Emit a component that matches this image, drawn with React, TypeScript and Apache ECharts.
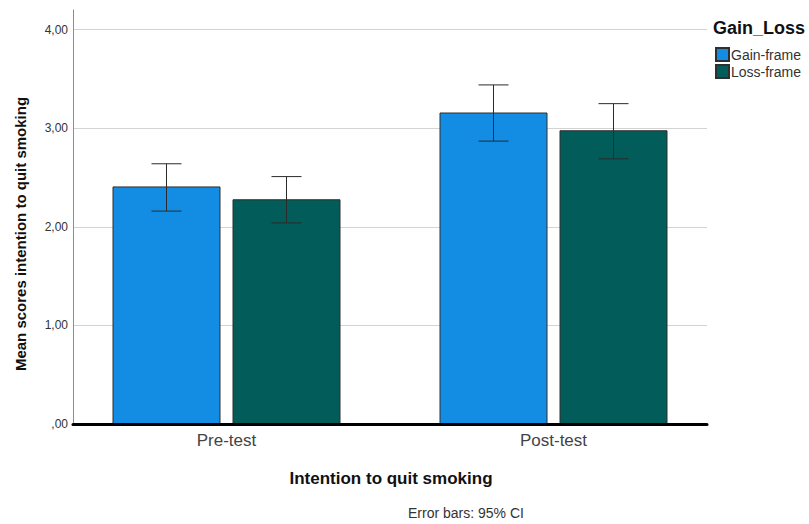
import React, { useEffect, useRef } from "react";
import * as echarts from "echarts";

const categories = ["Pre-test", "Post-test"];
const seriesNames = ["Gain-frame", "Loss-frame"];
const gainMeans = [2.41, 3.16];
const lossMeans = [2.28, 2.98];
const gainCI = [
  [2.16, 2.64],
  [2.87, 3.44],
];
const lossCI = [
  [2.04, 2.51],
  [2.69, 3.25],
];
const yTicks = [0, 1, 2, 3, 4];

const FONT = "Liberation Sans, Arial, sans-serif";
const BAR_W = 108;
const BAR_GAP = 12;
const GAIN_COLOR = "#138de4";
const LOSS_COLOR = "#025c59";

// SPSS-style decimal comma, leading zero dropped (",00")
const fmt = (v: number) => {
  const s = v.toFixed(2).replace(".", ",");
  return s.startsWith("0,") ? s.slice(1) : s;
};

function errorSeries(name: string, ci: number[][], shift: number) {
  return {
    type: "custom",
    name: name + " CI",
    xAxisIndex: 1,
    yAxisIndex: 1,
    silent: true,
    z: 5,
    data: ci.map((d, i) => [i, d[0], d[1]]),
    renderItem: (_params: any, api: any) => {
      const lo = api.coord([api.value(0), api.value(1)]);
      const hi = api.coord([api.value(0), api.value(2)]);
      const x = lo[0] + shift;
      const cap = 15;
      const style = { stroke: "#2b2b2b", lineWidth: 1 };
      return {
        type: "group",
        children: [
          { type: "line", shape: { x1: x, y1: hi[1], x2: x, y2: lo[1] }, style },
          { type: "line", shape: { x1: x - cap, y1: hi[1], x2: x + cap, y2: hi[1] }, style },
          { type: "line", shape: { x1: x - cap, y1: lo[1], x2: x + cap, y2: lo[1] }, style },
        ],
      };
    },
  };
}

export default function App() {
  const ref = useRef<HTMLDivElement>(null);

  useEffect(() => {
    if (!ref.current) return;
    const chart = echarts.init(ref.current, null, { renderer: "svg" });
    const offset = (BAR_W + BAR_GAP) / 2;
    chart.setOption({
      animation: false,
      backgroundColor: "#ffffff",
      textStyle: { fontFamily: FONT },
      grid: [
        { left: 73, right: 102, top: 10, bottom: 100 },
        { left: 63, right: 92, top: 10, bottom: 100 },
      ],
      xAxis: [
        {
          type: "category",
          gridIndex: 0,
          data: categories,
          axisLine: { show: true, lineStyle: { color: "#000", width: 3 } },
          axisTick: { show: false },
          axisLabel: { show: false },
          z: 10,
        },
        {
          type: "category",
          gridIndex: 1,
          data: categories,
          axisLine: { show: false },
          axisTick: { show: false },
          axisLabel: { fontFamily: FONT, fontSize: 17, color: "#444", margin: 8 },
        },
      ],
      yAxis: [
        {
          type: "value",
          gridIndex: 0,
          min: 0,
          max: 4.2,
          interval: 1,
          axisLine: { show: true, lineStyle: { color: "#8c8c8c", width: 1 } },
          axisTick: { show: false },
          axisLabel: {
            fontFamily: FONT,
            fontSize: 12,
            color: "#333",
            margin: 5,
            formatter: (v: number) => (yTicks.includes(v) ? fmt(v) : ""),
          },
          splitLine: {
            show: true,
            lineStyle: {
              color: ["#d3d3d3", "#d3d3d3", "#d3d3d3", "#d3d3d3", "#d3d3d3", "rgba(0,0,0,0)"],
              width: 1,
            },
          },
        },
        {
          type: "value",
          gridIndex: 1,
          min: 0,
          max: 4.2,
          interval: 1,
          show: false,
          splitLine: { show: false },
        },
      ],
      legend: {
        orient: "vertical",
        left: 710,
        top: 42,
        itemWidth: 13,
        itemHeight: 13,
        itemGap: 2,
        icon: "rect",
        data: seriesNames,
        textStyle: { fontFamily: FONT, fontSize: 14, color: "#333", padding: [0, 0, 0, -3] },
      },
      graphic: [
        {
          type: "text",
          x: 20,
          y: 234,
          rotation: Math.PI / 2,
          style: {
            text: "Mean scores intention to quit smoking",
            fontFamily: FONT,
            fontSize: 15,
            fontWeight: "bold",
            fill: "#111",
            align: "center",
            verticalAlign: "middle",
          },
        },
        {
          type: "text",
          x: 391,
          y: 478,
          style: {
            text: "Intention to quit smoking",
            fontFamily: FONT,
            fontSize: 17,
            fontWeight: "bold",
            fill: "#111",
            align: "center",
            verticalAlign: "middle",
          },
        },
        {
          type: "text",
          x: 713,
          y: 28,
          style: {
            text: "Gain_Loss",
            fontFamily: FONT,
            fontSize: 18,
            fontWeight: "bold",
            fill: "#111",
            verticalAlign: "middle",
          },
        },
        {
          type: "text",
          x: 408,
          y: 513,
          style: {
            text: "Error bars: 95% CI",
            fontFamily: FONT,
            fontSize: 14,
            fill: "#333",
            verticalAlign: "middle",
          },
        },
      ],
      series: [
        {
          type: "bar",
          name: seriesNames[0],
          xAxisIndex: 1,
          yAxisIndex: 1,
          data: gainMeans,
          barWidth: BAR_W,
          barGap: `${(BAR_GAP / BAR_W) * 100}%`,
          itemStyle: { color: GAIN_COLOR, borderColor: "#2f2f2f", borderWidth: 1 },
        },
        {
          type: "bar",
          name: seriesNames[1],
          xAxisIndex: 1,
          yAxisIndex: 1,
          data: lossMeans,
          barWidth: BAR_W,
          barGap: `${(BAR_GAP / BAR_W) * 100}%`,
          itemStyle: { color: LOSS_COLOR, borderColor: "#2f2f2f", borderWidth: 1 },
        },
        errorSeries(seriesNames[0], gainCI, -offset),
        errorSeries(seriesNames[1], lossCI, offset),
      ],
    });
    return () => chart.dispose();
  }, []);

  return <div ref={ref} style={{ width: 809, height: 524, position: "absolute", left: 0, top: 0 }} />;
}
